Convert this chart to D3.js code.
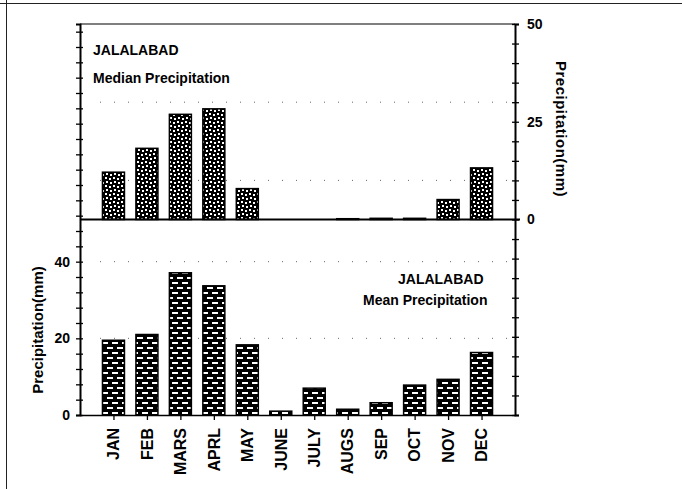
<!DOCTYPE html>
<html>
<head>
<meta charset="utf-8">
<script src="https://cdnjs.cloudflare.com/ajax/libs/d3/7.8.5/d3.min.js"></script>
<style>
  body { margin: 0; background: #fff; }
  text { font-family: "Liberation Sans", Arial, sans-serif; font-weight: bold; fill: #000; }
</style>
</head>
<body>
<script>
  var months = ["JAN", "FEB", "MARS", "APRL", "MAY", "JUNE", "JULY", "AUGS", "SEP", "OCT", "NOV", "DEC"];
  var medianPrecip = [12.1, 18.2, 26.9, 28.3, 7.9, 0, 0, 0.2, 0.3, 0.3, 5.1, 13.2];
  var meanPrecip = [19.5, 21.0, 37.1, 33.7, 18.3, 1.0, 7.0, 1.5, 3.2, 7.8, 9.3, 16.3];
  var leftLabels = [0, 20, 40];
  var rightLabels = [0, 25, 50];

  var W = 682, H = 489,
      plotLeft = 80, plotRight = 515, plotTop = 24, plotBottom = 415;

  var svg = d3.select("body").append("svg")
    .attr("width", W)
    .attr("height", H);

  // fill patterns
  var defs = svg.append("defs");
  var dots = defs.append("pattern")
    .attr("id", "dots")
    .attr("patternUnits", "userSpaceOnUse")
    .attr("width", 8).attr("height", 8);
  dots.append("rect").attr("width", 8).attr("height", 8).attr("fill", "#000");
  [[1, 1], [5, 2], [2, 5], [6, 6]].forEach(function(p) {
    dots.append("rect").attr("x", p[0]).attr("y", p[1])
      .attr("width", 2).attr("height", 2).attr("fill", "#fff");
  });

  var bricks = defs.append("pattern")
    .attr("id", "bricks")
    .attr("patternUnits", "userSpaceOnUse")
    .attr("width", 10).attr("height", 10);
  bricks.append("rect").attr("width", 10).attr("height", 10).attr("fill", "#000");
  [[2, 2], [-3, 7], [7, 7]].forEach(function(p) {
    bricks.append("rect").attr("x", p[0]).attr("y", p[1])
      .attr("width", 6).attr("height", 2).attr("fill", "#fff");
  });

  // scales: left axis runs through both panels, right axis too
  var x = d3.scalePoint().domain(months).range([plotLeft, plotRight]).padding(1);
  var yL = d3.scaleLinear().domain([0, 102]).range([plotBottom, plotTop]);
  var yR = d3.scaleLinear().domain([0, 100]).range([plotBottom, plotTop]);
  var barW = 22;

  // page border remnants
  svg.append("line").attr("x1", 0).attr("x2", W).attr("y1", 3.5).attr("y2", 3.5)
    .attr("stroke", "#222").attr("stroke-width", 1);
  svg.append("line").attr("x1", 6.5).attr("x2", 6.5).attr("y1", 0).attr("y2", H)
    .attr("stroke", "#222").attr("stroke-width", 1);

  // dotted grid
  var grid = [yR(50 + 10), yR(50 + 30), yL(20), yL(40)];
  svg.selectAll(".grid").data(grid).enter().append("line")
    .attr("x1", plotLeft + 20).attr("x2", plotRight - 5)
    .attr("y1", function(d) { return d; }).attr("y2", function(d) { return d; })
    .attr("stroke", "#666").attr("stroke-width", 1)
    .attr("stroke-dasharray", "1,13");

  // median bars (top panel)
  svg.selectAll(".med").data(medianPrecip).enter().append("rect")
    .attr("x", function(d, i) { return x(months[i]) - barW / 2; })
    .attr("y", function(d) { return yR(50 + d); })
    .attr("width", barW)
    .attr("height", function(d) { return yR(50) - yR(50 + d); })
    .attr("fill", "url(#dots)")
    .attr("stroke", "#000").attr("stroke-width", 1.5);

  // mean bars (bottom panel)
  svg.selectAll(".mean").data(meanPrecip).enter().append("rect")
    .attr("x", function(d, i) { return x(months[i]) - barW / 2; })
    .attr("y", function(d) { return yL(d); })
    .attr("width", barW)
    .attr("height", function(d) { return yL(0) - yL(d); })
    .attr("fill", "url(#bricks)")
    .attr("stroke", "#000").attr("stroke-width", 1.5);

  // frame
  svg.append("line").attr("x1", plotLeft).attr("x2", plotRight).attr("y1", plotTop).attr("y2", plotTop)
    .attr("stroke", "#000").attr("stroke-width", 1.2);
  svg.append("line").attr("x1", plotLeft).attr("x2", plotRight + 5).attr("y1", yR(50)).attr("y2", yR(50))
    .attr("stroke", "#000").attr("stroke-width", 2);

  // left axis
  var axL = svg.append("g").attr("transform", "translate(" + plotLeft + ",0)")
    .call(d3.axisLeft(yL).tickValues(d3.range(0, 101, 4)).tickSize(4).tickFormat(""));
  axL.select(".domain").attr("stroke-width", 2);
  axL.selectAll(".tick line").attr("x2", 3).attr("x1", -4).attr("stroke-width", 1.3);
  svg.selectAll(".llab").data(leftLabels).enter().append("text")
    .attr("x", plotLeft - 10).attr("y", function(d) { return yL(d); })
    .attr("dy", "0.35em").attr("text-anchor", "end")
    .style("font-size", "14px")
    .text(function(d) { return d; });

  // right axis
  var axR = svg.append("g").attr("transform", "translate(" + plotRight + ",0)")
    .call(d3.axisRight(yR).tickValues(d3.range(0, 101, 5)).tickSize(4).tickFormat(""));
  axR.select(".domain").attr("stroke-width", 2);
  axR.selectAll(".tick line").attr("x1", -3).attr("x2", 4).attr("stroke-width", 1.3);
  svg.selectAll(".rlab").data(rightLabels).enter().append("text")
    .attr("x", plotRight + 12).attr("y", function(d) { return yR(50 + d); })
    .attr("dy", "0.35em")
    .style("font-size", "14px")
    .text(function(d) { return d; });

  // bottom axis
  var axB = svg.append("g").attr("transform", "translate(0," + plotBottom + ")")
    .call(d3.axisBottom(x).tickSize(5).tickSizeOuter(0).tickFormat(""));
  axB.select(".domain").attr("stroke-width", 1.5);
  axB.selectAll(".tick line").attr("stroke-width", 1.3);

  svg.selectAll(".mlab").data(months).enter().append("text")
    .attr("transform", function(d) { return "translate(" + x(d) + "," + (plotBottom + 13) + ") rotate(-90)"; })
    .attr("dy", "0.36em").attr("text-anchor", "end")
    .style("font-size", "16px")
    .text(function(d) { return d; });

  // axis titles
  svg.append("text")
    .attr("transform", "translate(38,330) rotate(-90)")
    .attr("dy", "0.35em").attr("text-anchor", "middle")
    .style("font-size", "15px")
    .text("Precipitation(mm)");
  svg.append("text")
    .attr("transform", "translate(561,129) rotate(90)")
    .attr("dy", "0.35em").attr("text-anchor", "middle")
    .style("font-size", "15px").style("letter-spacing", "0.5px")
    .text("Precipitation(mm)");

  // panel titles
  svg.append("text").attr("x", 93).attr("y", 55).style("font-size", "14px").text("JALALABAD");
  svg.append("text").attr("x", 93).attr("y", 83).style("font-size", "14px").text("Median Precipitation");
  svg.append("text").attr("x", 398).attr("y", 284).style("font-size", "14px").text("JALALABAD");
  svg.append("text").attr("x", 363).attr("y", 305).style("font-size", "14px").text("Mean Precipitation");
</script>
</body>
</html>
